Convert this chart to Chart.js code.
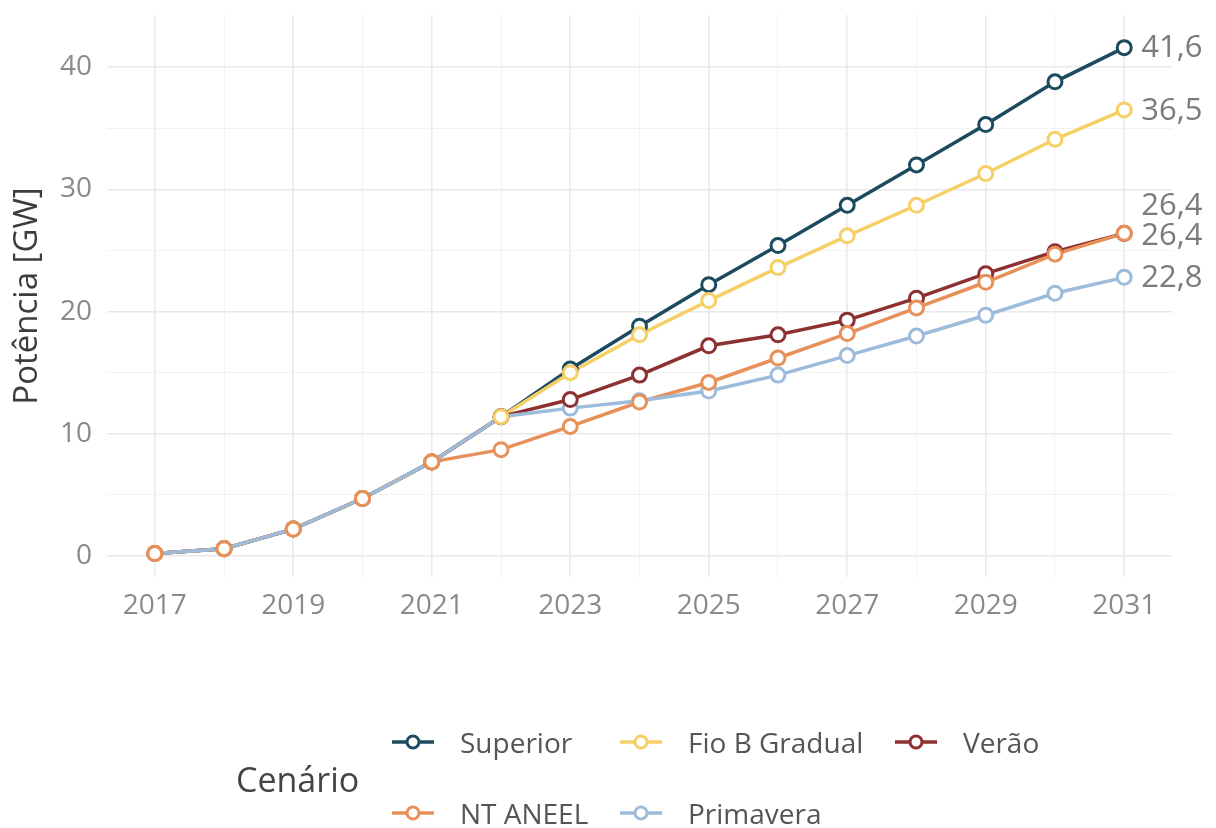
<!DOCTYPE html>
<html>
<head>
<meta charset="utf-8">
<script src="https://cdn.jsdelivr.net/npm/chart.js@4"></script>
<style>
  body { margin: 0; background: #fff; font-family: "Open Sans", sans-serif; }
  #wrap { position: relative; width: 1216px; height: 828px; }
  #legend { position: absolute; left: 0; top: 0; width: 1216px; height: 828px; pointer-events: none; }
  .ttl { position: absolute; left: 236px; top: 756px; font-size: 34px; line-height: 46px; color: #444; }
  .item { position: absolute; display: flex; align-items: center; font-size: 28px; color: #555; height: 40px; }
  .item svg { margin-right: 26px; }
</style>
</head>
<body>
<div id="wrap">
  <canvas id="myChart" width="1216" height="828"></canvas>
  <div id="legend"></div>
</div>
<script>
const years = [2017, 2018, 2019, 2020, 2021, 2022, 2023, 2024, 2025, 2026, 2027, 2028, 2029, 2030, 2031];
const seriesNames = ["Superior", "Fio B Gradual", "Verão", "NT ANEEL", "Primavera"];
const superior    = [0.2, 0.6, 2.2, 4.7, 7.7, 11.4, 15.3, 18.8, 22.2, 25.4, 28.7, 32.0, 35.3, 38.8, 41.6];
const fioBGradual = [0.2, 0.6, 2.2, 4.7, 7.7, 11.4, 15.0, 18.1, 20.9, 23.6, 26.2, 28.7, 31.3, 34.1, 36.5];
const verao       = [0.2, 0.6, 2.2, 4.7, 7.7, 11.4, 12.8, 14.8, 17.2, 18.1, 19.3, 21.1, 23.1, 24.9, 26.4];
const ntAneel     = [0.2, 0.6, 2.2, 4.7, 7.7, 8.7, 10.6, 12.6, 14.2, 16.2, 18.2, 20.3, 22.4, 24.7, 26.4];
const primavera   = [0.2, 0.6, 2.2, 4.7, 7.7, 11.4, 12.1, 12.7, 13.5, 14.8, 16.4, 18.0, 19.7, 21.5, 22.8];
const yTicks = [0, 5, 10, 15, 20, 25, 30, 35, 40];

const allValues = [superior, fioBGradual, verao, ntAneel, primavera];
const colors = ["#1c4b5f", "#f6cf66", "#8c3030", "#e8905a", "#9dbcdb"];
// lower order = drawn on top
const pointOrder = [5, 2, 3, 1, 4];
const lineOrder = [10, 9, 8, 7, 6];
const labelShift = [1, 1, -27, 3, 1];

const datasets = [];
seriesNames.forEach((name, i) => {
  const pts = years.map((x, j) => ({ x: x, y: allValues[i][j] }));
  datasets.push({
    label: name, data: pts, borderColor: colors[i], borderWidth: 3.5,
    pointRadius: 0, showLine: true, order: lineOrder[i]
  });
  datasets.push({
    label: name, data: pts, borderColor: colors[i], backgroundColor: "#fff",
    pointRadius: 7, pointBorderWidth: 3, showLine: false, order: pointOrder[i]
  });
});

const endLabels = {
  id: "endLabels",
  afterDatasetsDraw(chart) {
    const ctx = chart.ctx;
    ctx.save();
    ctx.font = "31px 'Open Sans'";
    ctx.fillStyle = "#7b7b7b";
    ctx.textBaseline = "middle";
    ctx.textAlign = "left";
    seriesNames.forEach((name, i) => {
      const v = allValues[i][allValues[i].length - 1];
      const x = chart.scales.x.getPixelForValue(years[years.length - 1]) + 17;
      const y = chart.scales.y.getPixelForValue(v) + labelShift[i];
      ctx.fillText(v.toFixed(1).replace(".", ","), x, y);
    });
    ctx.restore();
  }
};

const ctx = document.getElementById("myChart").getContext("2d");
const chart = new Chart(ctx, {
  type: "line",
  data: { datasets: datasets },
  options: {
    responsive: false,
    animation: false,
    layout: { padding: { left: 0, top: 15, right: 44, bottom: 191 } },
    plugins: { legend: { display: false }, tooltip: { enabled: false } },
    scales: {
      x: {
        type: "linear", min: 2016.31, max: 2031.69,
        afterBuildTicks: s => { s.ticks = years.map(v => ({ value: v })); },
        afterFit: s => { s.height = 60; s.paddingLeft = 0; s.paddingRight = 0; },
        border: { display: false },
        grid: {
          drawTicks: false,
          color: c => (c.tick && c.tick.value % 2) ? "#e9e9e9" : "#f2f2f2",
          lineWidth: c => (c.tick && c.tick.value % 2) ? 1.6 : 1
        },
        ticks: {
          autoSkip: false, maxRotation: 0, padding: 12,
          color: "#8a8a8a", font: { family: "Open Sans", size: 28 },
          callback: v => v % 2 ? String(v) : ""
        }
      },
      y: {
        min: -1.72, max: 44.27,
        afterBuildTicks: s => { s.ticks = yTicks.map(v => ({ value: v })); },
        afterFit: s => { s.width = 107; s.paddingTop = 0; s.paddingBottom = 0; },
        border: { display: false },
        grid: {
          drawTicks: false,
          color: c => (c.tick && c.tick.value % 10 === 0) ? "#e9e9e9" : "#f2f2f2",
          lineWidth: c => (c.tick && c.tick.value % 10 === 0) ? 1.6 : 1
        },
        ticks: {
          padding: 15, color: "#8a8a8a", font: { family: "Open Sans", size: 28 },
          callback: v => v % 10 === 0 ? String(v) : ""
        },
        title: {
          display: true, text: "Potência [GW]", color: "#3d3d3d",
          font: { family: "Open Sans", size: 33 }, padding: { top: 8, bottom: 0 }
        }
      }
    }
  },
  plugins: [endLabels]
});

// ggplot style legend below the plot
const legendPos = [[392, 722], [620, 722], [895, 722], [392, 793], [620, 793]];
const legend = document.getElementById("legend");
legend.innerHTML = '<div class="ttl">Cenário</div>';
seriesNames.forEach((name, i) => {
  const d = document.createElement("div");
  d.className = "item";
  d.style.left = legendPos[i][0] + "px";
  d.style.top = legendPos[i][1] + "px";
  d.innerHTML = '<svg width="42" height="20"><line x1="0" y1="10" x2="42" y2="10" stroke="' + colors[i] +
    '" stroke-width="3.5"/><circle cx="21" cy="10" r="6" fill="#fff" stroke="' + colors[i] +
    '" stroke-width="3"/></svg>' + name;
  legend.appendChild(d);
});
</script>
</body>
</html>
